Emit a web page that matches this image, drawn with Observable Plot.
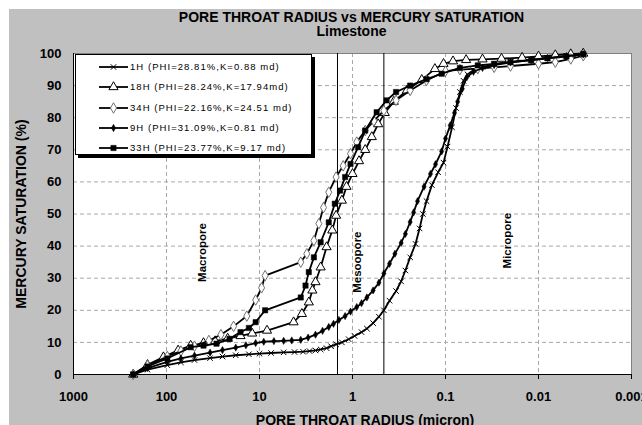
<!DOCTYPE html>
<html><head><meta charset="utf-8">
<script src="https://cdn.jsdelivr.net/npm/d3@7"></script>
<script src="https://cdn.jsdelivr.net/npm/@observablehq/plot@0.6"></script>
<style>
html,body{margin:0;padding:0;background:#fff;width:642px;height:425px;overflow:hidden;font-family:"Liberation Sans",Arial,sans-serif;}
#bg{position:absolute;left:9px;top:9px;width:633px;height:416px;background:#c0c0c0;}
.t{position:absolute;white-space:nowrap;font-weight:bold;color:#000;font-size:14px;line-height:14px;}
#title,#subtitle{line-height:11px;}
#legend{position:absolute;left:75px;top:54px;width:237px;height:101px;box-sizing:border-box;border:1px solid #000;background:#fff;box-shadow:3px 3px 0 #000;}
.lrow{position:absolute;left:99px;height:12px;white-space:nowrap;font-size:9.5px;line-height:12px;letter-spacing:1.05px;color:#000;}
.lrow svg{position:absolute;left:0;top:0;}
.lrow span{position:absolute;left:31px;top:0;}
</style></head><body>
<div id="bg"></div>
<div class="t" id="title" style="left:351.5px;top:11.6px;transform:translateX(-50%);">PORE THROAT RADIUS vs MERCURY SATURATION</div>
<div class="t" id="subtitle" style="left:351.5px;top:26.4px;transform:translateX(-50%);">Limestone</div>
<div class="t" id="ytitle" style="left:21px;top:213.5px;transform:translate(-50%,-50%) rotate(-90deg);">MERCURY SATURATION (%)</div>
<div class="t" id="xtitle" style="left:365px;top:412.6px;transform:translateX(-50%);">PORE THROAT RADIUS (micron)</div>
<script>
// ---- data ----
const seriesNames = ["1H (PHI=28.81%,K=0.88 md)", "18H (PHI=28.24%,K=17.94md)", "34H (PHI=22.16%,K=24.51 md)", "9H (PHI=31.09%,K=0.81 md)", "33H (PHI=23.77%,K=9.17 md)"];

const r1H = [228,160,98,70,50,34,25,18,13,10,7.5,5.5,4.2,3.4,2.9,2.5,2.2,1.9,1.7,1.5,1.3,1.1,0.95,0.8,0.7,0.6,0.52,0.46,0.4,0.34,0.3,0.27,0.24,0.21,0.19,0.175,0.16,0.14,0.12,0.105,0.095,0.085,0.077,0.07,0.064,0.058,0.05,0.04,0.03,0.02,0.012,0.008,0.005,0.0033];
const s1H = [0,1.5,2.9,3.8,4.5,5.1,5.6,6.0,6.3,6.5,6.7,6.9,7.0,7.1,7.3,7.5,7.8,8.2,8.8,9.4,10.0,11.0,12.0,13.2,14.3,16.0,18.0,20,23,26,29,32.4,36.5,40.7,45.5,50,54,59,63,66,71,77,83,88,91.5,93.5,94.8,95.8,96.6,97.4,98.1,98.7,99.2,99.6];

const r18H = [228,160,108,75,55,40,30,22,16,12,8.3,4.3,3.5,2.95,2.7,2.5,2.2,1.9,1.65,1.5,1.3,1.16,1.0,0.85,0.73,0.62,0.53,0.45,0.36,0.26,0.18,0.13,0.105,0.083,0.06,0.04,0.025,0.015,0.01,0.0066,0.0045,0.0033];
const s18H = [0,3,5.4,7.5,9,9.8,10.4,11.2,12.0,12.8,13.7,16.3,18.9,22.5,26.2,28.8,33.4,39.7,44.9,49.5,54.2,58.5,62.5,66.5,70,74,78,81.5,85,88.5,91.8,95.2,96.8,97.6,98,98.2,98.4,98.7,99.1,99.5,99.8,100];

const r34H = [228,160,98,70,50,35,26,19,13.7,11,9.5,8.7,3.6,3.1,2.6,2.3,2.05,1.8,1.5,1.26,1.05,0.9,0.73,0.59,0.46,0.34,0.24,0.16,0.1,0.07,0.045,0.03,0.02,0.01,0.0066,0.0045,0.0033];
const s34H = [0,2.8,5.6,7.3,8.8,10.6,12.4,15,18.2,23.2,27,30.8,35,37.6,41.7,47,52,56.8,61.5,65,68.8,72.4,76,79,82.2,85.4,88.5,91.6,94.5,95,95.3,95.7,96.1,96.8,97.3,98.3,99.3];

const r9H = [228,160,98,70,50,34,25,18,14,11,9,7,5.5,4.5,3.6,3,2.5,2.1,1.8,1.6,1.4,1.2,1.05,0.9,0.8,0.7,0.6,0.52,0.46,0.4,0.35,0.3,0.27,0.24,0.22,0.2,0.17,0.145,0.128,0.11,0.1,0.089,0.08,0.074,0.066,0.059,0.05,0.04,0.03,0.02,0.012,0.008,0.005,0.0033];
const s9H = [0,2,3.9,5,5.9,6.8,7.6,8.4,9.1,9.8,10.2,10.4,10.5,10.6,10.8,11.5,12.4,13.6,14.8,15.8,17.0,18.2,19.6,21,22.2,24,26.2,28.6,31.5,34.5,37.6,41,43.8,47.5,50.5,54,58.5,62.5,65.5,69.5,73.5,77.6,81.5,85,89,92.6,94.3,95.5,96.4,97.2,98,98.6,99.2,99.7];

const r33H = [228,160,98,55,40,29,21,16,13,11,8.7,3.6,3.2,2.95,2.6,2.2,1.8,1.55,1.36,1.2,1.05,0.87,0.73,0.55,0.43,0.34,0.24,0.16,0.11,0.07,0.045,0.03,0.02,0.012,0.008,0.005,0.0033];
const s33H = [0,2.5,5.0,8.5,9.0,9.6,11.1,13.2,14.5,16.3,20,24,27.7,31.9,36.5,41.2,47.4,53.2,57.3,61.5,65.6,70.8,76,81.7,85.4,88,90,92,93.7,95.5,96.3,96.8,97.3,97.9,98.5,99.1,99.8];

const poreBoundaries = [1.45, 0.46];
const regionNames = ["Macropore", "Mesoopore", "Micropore"];
const regionRadius = [41, 0.89, 0.0216];
const regionSat = [38, 35, 41.7];

const xTicks = [1000, 100, 10, 1, 0.1, 0.01, 0.001];
const xTickLabels = ["1000", "100", "10", "1", "0.1", "0.01", "0.001"];
const yTicks = [0, 10, 20, 30, 40, 50, 60, 70, 80, 90, 100];

// ---- build ----
const radii = [r1H, r18H, r34H, r9H, r33H];
const sats = [s1H, s18H, s34H, s9H, s33H];
const styles = [
  {symbol: "times", r: 2.6, fill: "none", stroke: "#000", strokeWidth: 1},
  {symbol: "triangle", r: 3.4, fill: "#fff", stroke: "#000", strokeWidth: 1},
  {symbol: "diamond", r: 3.2, fill: "#fff", stroke: "#707070", strokeWidth: 1},
  {symbol: "diamond", r: 2.2, fill: "#000", stroke: "#000", strokeWidth: 0.5},
  {symbol: "square", r: 3.0, fill: "#000", stroke: "#000", strokeWidth: 0.5}
];
const tables = radii.map((rs, i) => rs.map((r, j) => ({r, s: sats[i][j], name: seriesNames[i]})));
const regions = regionNames.map((n, i) => ({n, r: regionRadius[i], s: regionSat[i]}));
const xLab = new Map(xTicks.map((t, i) => [t, xTickLabels[i]]));

const font = "Liberation Sans, Arial, sans-serif";
const marks = [
  Plot.frame({fill: "#fff", stroke: "none"}),
  Plot.ruleX(xTicks.slice(1, -1), {stroke: "#a8a8a8", strokeDasharray: "4,3"}),
  Plot.ruleY(yTicks.slice(1, -1), {stroke: "#a8a8a8", strokeDasharray: "4,3"}),
  Plot.ruleY([100], {stroke: "#808080"}),
  Plot.ruleX([0.001], {stroke: "#808080"}),
  Plot.ruleX(poreBoundaries, {stroke: "#000", strokeWidth: 1}),
  Plot.text(regions, {x: "r", y: "s", text: "n", rotate: -90, fontSize: 11.5, fontWeight: "bold", fill: "#000", fontFamily: font}),
];
tables.forEach((tb, i) => {
  marks.push(Plot.line(tb, {x: "r", y: "s", stroke: "#000", strokeWidth: 1.8}));
  marks.push(Plot.dot(tb, {x: "r", y: "s", ...styles[i]}));
});
marks.push(
  Plot.ruleY([0], {stroke: "#000"}),
  Plot.ruleX([1000], {stroke: "#000"}),
  Plot.axisX(xTicks, {tickSize: 5, tickPadding: 12, tickFormat: d => xLab.get(d), fontSize: 13, fontWeight: "bold", fontFamily: font, label: null}),
  Plot.axisY(yTicks, {tickSize: 0, tickPadding: 12, fontSize: 13, fontWeight: "bold", fontFamily: font, label: null})
);

const chart = Plot.plot({
  width: 633, height: 370,
  marginLeft: 64, marginRight: 11, marginTop: 13, marginBottom: 36,
  style: {background: "transparent", color: "#000", fontFamily: font, overflow: "visible"},
  x: {type: "log", domain: [1000, 0.001]},
  y: {domain: [0, 100]},
  marks
});
chart.style.position = "absolute";
chart.style.left = "9px";
chart.style.top = "40px";
document.body.appendChild(chart);

// ---- legend ----
const legend = document.createElement("div");
legend.id = "legend";
document.body.appendChild(legend);
const symMap = {times: d3.symbolTimes, triangle: d3.symbolTriangle, diamond: d3.symbolDiamond, square: d3.symbolSquare};
seriesNames.forEach((name, i) => {
  const row = document.createElement("div");
  row.className = "lrow";
  row.style.top = (61.1 + i * 20.3) + "px";
  const st = styles[i];
  const path = d3.symbol(symMap[st.symbol], st.r * st.r * Math.PI)();
  row.innerHTML = `<svg width="30" height="12"><line x1="0" x2="29" y1="6" y2="6" stroke="#000" stroke-width="1.8"/><path transform="translate(14.5,6)" d="${path}" fill="${st.fill}" stroke="${st.stroke}" stroke-width="${st.strokeWidth}"/></svg><span>${name}</span>`;
  document.body.appendChild(row);
});
</script>
</body></html>
